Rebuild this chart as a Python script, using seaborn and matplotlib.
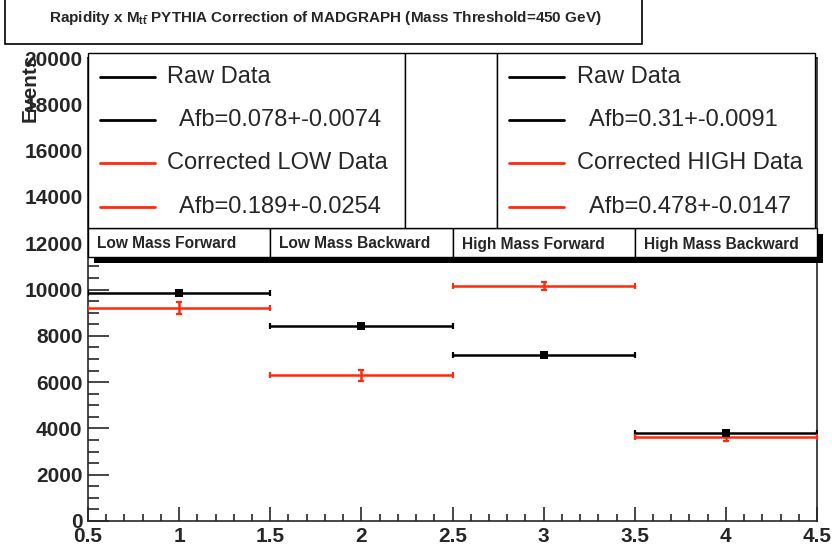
import matplotlib
matplotlib.use("Agg")
import matplotlib.pyplot as plt
import seaborn as sns
import pandas as pd
from matplotlib.patches import Rectangle
from matplotlib.lines import Line2D
from matplotlib.ticker import MultipleLocator
from matplotlib.transforms import blended_transform_factory

# data
bins = [1, 2, 3, 4]
bin_half_width = [0.5, 0.5, 0.5, 0.5]
raw_events = [9850, 8420, 7170, 3800]
raw_err = [80, 80, 70, 60]
corr_events = [9200, 6300, 10150, 3630]
corr_err = [260, 240, 190, 170]
bin_labels = ["Low Mass Forward", "Low Mass Backward", "High Mass Forward", "High Mass Backward"]
low_legend = ["Raw Data", "  Afb=0.078+-0.0074", "Corrected LOW Data", "  Afb=0.189+-0.0254"]
high_legend = ["Raw Data", "  Afb=0.31+-0.0091", "Corrected HIGH Data", "  Afb=0.478+-0.0147"]

RED = "#ff2a0a"
W, H = 832, 550


def fx(x):
    return x / W


def fy(y):
    return 1 - y / H


sns.set_style("ticks")
plt.rcParams["font.family"] = ["Liberation Sans", "DejaVu Sans"]
plt.rcParams["mathtext.fontset"] = "custom"
plt.rcParams["mathtext.rm"] = "Liberation Sans"
plt.rcParams["mathtext.bf"] = "Liberation Sans:bold"

df = pd.DataFrame({"bin": bins, "half": bin_half_width,
                   "raw": raw_events, "raw_err": raw_err,
                   "corr": corr_events, "corr_err": corr_err})

fig = plt.figure(figsize=(8.32, 5.5), dpi=100)
ax = fig.add_axes([fx(88), fy(521), (817 - 88) / W, (521 - 58) / H])

ax.errorbar(df["bin"], df["raw"], xerr=df["half"], yerr=df["raw_err"], fmt="none",
            ecolor="black", elinewidth=1.8, capsize=2.2, capthick=1.6, zorder=3)
sns.scatterplot(data=df, x="bin", y="raw", marker="s", color="black", s=30,
                linewidth=0, ax=ax, zorder=4)
ax.errorbar(df["bin"], df["corr"], xerr=df["half"], yerr=df["corr_err"], fmt="none",
            ecolor=RED, elinewidth=1.8, capsize=2.2, capthick=1.6, zorder=3)

ax.set_xlim(0.5, 4.5)
ax.set_ylim(0, 20000)
ax.xaxis.set_major_locator(MultipleLocator(0.5))
ax.xaxis.set_minor_locator(MultipleLocator(0.1))
ax.yaxis.set_major_locator(MultipleLocator(2000))
ax.yaxis.set_minor_locator(MultipleLocator(500))
ax.set_xticklabels([f"{v:g}" for v in ax.get_xticks()])
ax.tick_params(axis="y", which="major", direction="in", length=15, width=1.2, pad=4, labelsize=15)
ax.tick_params(axis="y", which="minor", direction="in", length=8, width=1.2)
ax.tick_params(axis="x", which="major", direction="in", length=10, width=1.2, pad=4, labelsize=15)
ax.tick_params(axis="x", which="minor", direction="in", length=5, width=1.2)
for lbl in ax.get_xticklabels() + ax.get_yticklabels():
    lbl.set_fontweight("bold")
for sp in ax.spines.values():
    sp.set_linewidth(1.2)
ax.set_xlabel("")
ax.set_ylabel("")

# bin label boxes with shadows
trans = blended_transform_factory(ax.transData, fig.transFigure)
off = 6 / 182.25
for b in bins:
    ax.add_artist(Rectangle((b - 0.5 + off, fy(263)), 1, (263 - 234) / H, transform=trans,
                            facecolor="black", edgecolor="none", clip_on=False, zorder=5))
for b, lab in zip(bins, bin_labels):
    ax.add_artist(Rectangle((b - 0.5, fy(257)), 1, (257 - 228) / H, transform=trans,
                            facecolor="white", edgecolor="black", linewidth=1, clip_on=False, zorder=6))
    ax.text(b - 0.5 + 0.05, fy(244), lab, transform=trans, fontsize=11.2, fontweight="bold",
            va="center", ha="left", zorder=7, clip_on=False)

# legend boxes
for x0, x1 in [(88, 405), (405, 497), (497, 815)]:
    fig.add_artist(Rectangle((fx(x0), fy(228)), (x1 - x0) / W, (228 - 53) / H,
                             transform=fig.transFigure, facecolor="white",
                             edgecolor="black", linewidth=1, zorder=8))
rows = [77, 120, 163, 207]
colors = ["black", "black", RED, RED]
for (lx, tx), entries in [((100, 167), low_legend), ((509, 577), high_legend)]:
    for y, c, txt in zip(rows, colors, entries):
        fig.add_artist(Line2D([fx(lx), fx(lx + 55)], [fy(y), fy(y)], transform=fig.transFigure,
                              color=c, linewidth=2, zorder=9))
        fig.text(fx(tx), fy(y), txt, fontsize=17, va="center", ha="left", zorder=9)

# title box
fig.add_artist(Rectangle((fx(5), fy(44)), (642 - 5) / W, (44 + 5) / H, transform=fig.transFigure,
                         facecolor="white", edgecolor="black", linewidth=1.2, zorder=8))
fig.text(fx(325), fy(18),
         r"Rapidity x M$_{\mathbf{t\bar{t}}}$ PYTHIA Correction of MADGRAPH (Mass Threshold=450 GeV)",
         fontsize=11, fontweight="bold", ha="center", va="center", zorder=9)

fig.text(fx(30), fy(53), "Events", rotation=90, fontsize=15, fontweight="bold",
         ha="center", va="top", zorder=9)

fig.savefig("out.png", dpi=100)
